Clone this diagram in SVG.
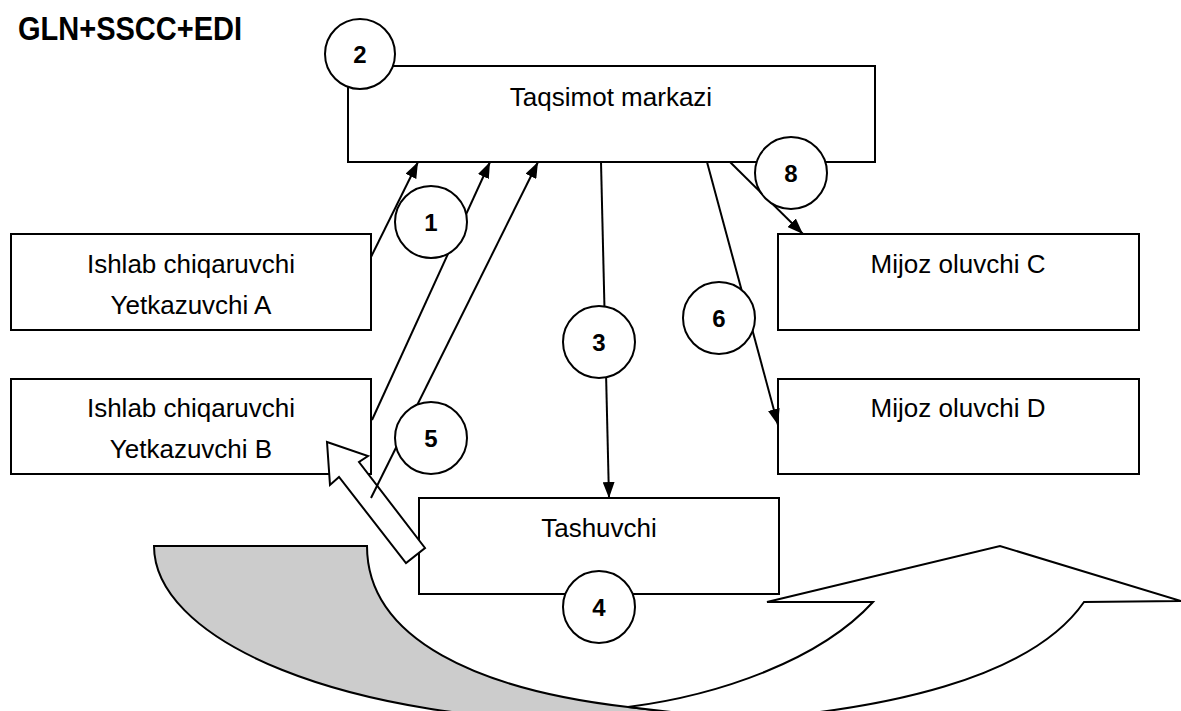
<svg xmlns="http://www.w3.org/2000/svg" width="1181" height="711" viewBox="0 0 1181 711">
<style>
.box{fill:#fff;stroke:#000;stroke-width:2}
.lbl{font-family:"Liberation Sans",Arial,sans-serif;font-size:26px;fill:#000;text-anchor:middle}
.num{font-family:"Liberation Sans",Arial,sans-serif;font-size:24px;font-weight:bold;fill:#000;text-anchor:middle}
.circ{fill:#fff;stroke:#000;stroke-width:2}
.conn{stroke:#000;stroke-width:2;fill:none;marker-end:url(#ah)}
.title{font-family:"Liberation Sans",Arial,sans-serif;font-size:33px;font-weight:bold;fill:#000}
</style>
<defs>
<marker id="ah" markerUnits="userSpaceOnUse" markerWidth="16" markerHeight="12" refX="16" refY="6" orient="auto">
<path d="M0,0 L16,6 L0,12 Z" fill="#000"/>
</marker>
</defs>
<rect width="1181" height="711" fill="#fff"/>

<g id="curved-arrow">
<path d="M367,546 C367,640 480,690 628,707 L740,720 L740,740 L590,740 L590,721 A436,175 0 0 1 154,546 Z" fill="#cccccc" stroke="#000" stroke-width="2"/>
<path d="M628,707 C720,695 820,660 873,602 L767,602 L1000,546 L1181,601 L1084,602 C1030,680 880,710 740,720 Z" fill="#fff" stroke="#000" stroke-width="2"/>
</g>

<text class="title" x="18" y="40" textLength="224" lengthAdjust="spacingAndGlyphs">GLN+SSCC+EDI</text>

<g id="taqsimot">
<rect class="box" x="348" y="66" width="527" height="96"/>
<text class="lbl" x="611" y="106">Taqsimot markazi</text>
</g>
<g id="yetkazuvchiA">
<rect class="box" x="11" y="234" width="360" height="96"/>
<text class="lbl" x="191" y="273">Ishlab chiqaruvchi</text>
<text class="lbl" x="191" y="314">Yetkazuvchi A</text>
</g>
<g id="yetkazuvchiB">
<rect class="box" x="11" y="379" width="360" height="95"/>
<text class="lbl" x="191" y="417">Ishlab chiqaruvchi</text>
<text class="lbl" x="191" y="458">Yetkazuvchi B</text>
</g>
<g id="mijozC">
<rect class="box" x="778" y="234" width="361" height="96"/>
<text class="lbl" x="958" y="273">Mijoz oluvchi C</text>
</g>
<g id="mijozD">
<rect class="box" x="778" y="379" width="361" height="95"/>
<text class="lbl" x="958" y="417">Mijoz oluvchi D</text>
</g>
<g id="tashuvchi">
<rect class="box" x="419" y="498" width="360" height="96"/>
<text class="lbl" x="599" y="537">Tashuvchi</text>
</g>

<g id="block-arrow">
<polygon points="327,442 368,456 359,462 425,548 406,563 339,477 330,485" fill="#fff" stroke="#000" stroke-width="2" stroke-linejoin="miter"/>
</g>

<g id="connectors">
<line class="conn" x1="371" y1="257" x2="418" y2="162"/>
<line class="conn" x1="372" y1="420" x2="490" y2="162"/>
<line class="conn" x1="371" y1="498" x2="538" y2="162"/>
<line class="conn" x1="601" y1="162" x2="609" y2="498"/>
<line class="conn" x1="707" y1="162" x2="778" y2="425"/>
<line class="conn" x1="730" y1="162" x2="803" y2="234"/>
</g>

<g id="c2"><circle class="circ" cx="360" cy="54" r="35"/><text class="num" x="360" y="63">2</text></g>
<g id="c1"><circle class="circ" cx="431" cy="222" r="36"/><text class="num" x="431" y="231">1</text></g>
<g id="c3"><circle class="circ" cx="599" cy="342" r="36"/><text class="num" x="599" y="351">3</text></g>
<g id="c5"><circle class="circ" cx="431" cy="438" r="36"/><text class="num" x="431" y="447">5</text></g>
<g id="c6"><circle class="circ" cx="719" cy="318" r="36"/><text class="num" x="719" y="327">6</text></g>
<g id="c8"><circle class="circ" cx="791" cy="173" r="36"/><text class="num" x="791" y="182">8</text></g>
<g id="c4"><circle class="circ" cx="599" cy="607" r="36"/><text class="num" x="599" y="616">4</text></g>
</svg>
